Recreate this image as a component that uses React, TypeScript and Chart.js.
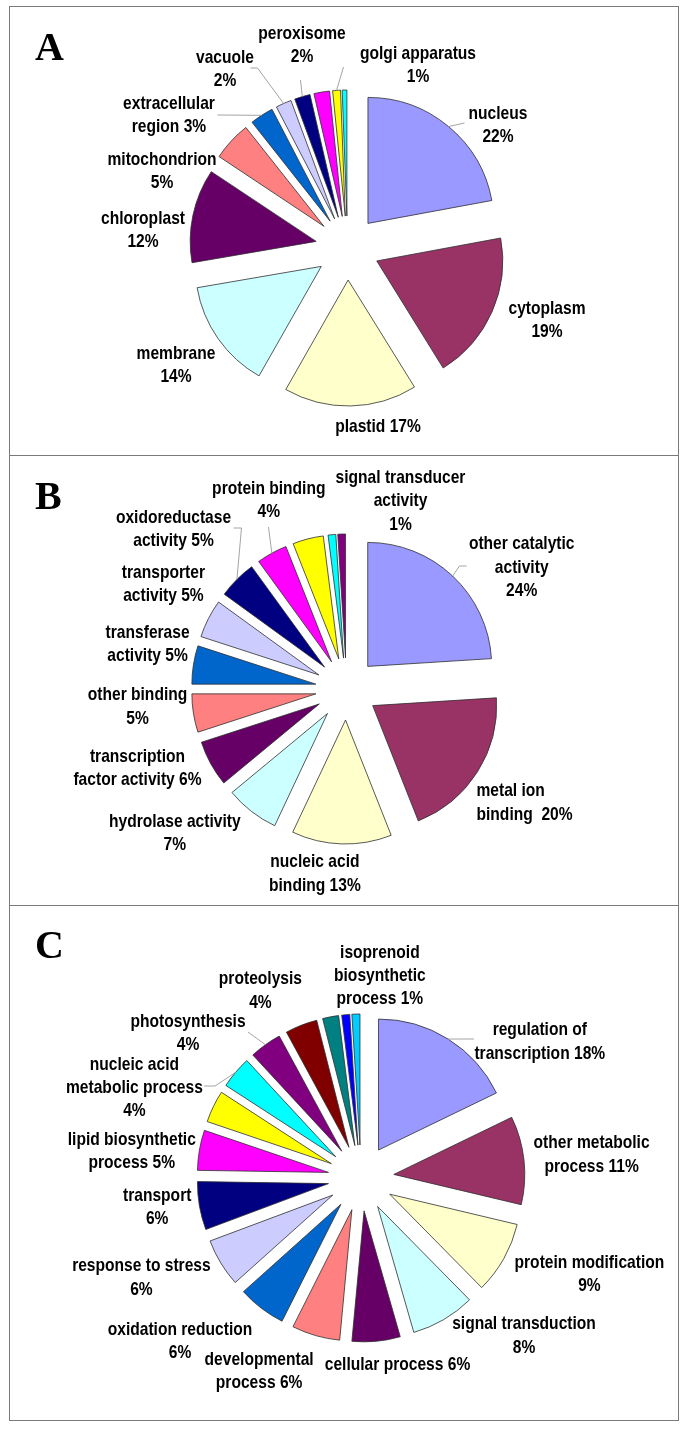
import React, { useEffect, useRef } from 'react';
import { Chart, registerables } from 'chart.js';

Chart.register(...registerables);

// ---------- DATA ----------
const excelPalette = ['#9999FF', '#993366', '#FFFFCC', '#CCFFFF', '#660066', '#FF8080', '#0066CC', '#CCCCFF', '#000080', '#FF00FF', '#FFFF00', '#00FFFF', '#800080', '#800000', '#008080', '#0000FF', '#00CCFF'];

// Panel A – cellular component
const cellCategories = ['nucleus', 'cytoplasm', 'plastid', 'membrane', 'chloroplast', 'mitochondrion', 'extracellular region', 'vacuole', 'peroxisome', 'other (unlabelled)', 'golgi apparatus', 'other (unlabelled) 2'];
const cellValues = [22, 19, 17, 14, 12, 5, 3, 2, 2, 2, 1, 0.6];

// Panel B – molecular function
const funcCategories = ['other catalytic activity', 'metal ion binding', 'nucleic acid binding', 'hydrolase activity', 'transcription factor activity', 'other binding', 'transferase activity', 'transporter activity', 'oxidoreductase activity', 'protein binding', 'other (unlabelled)', 'other (unlabelled) 2', 'signal transducer activity'];
const funcValues = [24, 20, 13, 7, 6, 5, 5, 5, 5, 4, 4, 1, 1];

// Panel C – biological process
const procCategories = ['regulation of transcription', 'other metabolic process', 'protein modification', 'signal transduction', 'cellular process', 'developmental process', 'oxidation reduction', 'response to stress', 'transport', 'lipid biosynthetic process', 'other (unlabelled)', 'nucleic acid metabolic process', 'photosynthesis', 'proteolysis', 'other (unlabelled) 2', 'other (unlabelled) 3', 'isoprenoid biosynthetic process'];
const procValues = [18, 11, 9, 8, 6, 6, 6, 6, 6, 5, 4, 4, 4, 4, 2, 1, 1];

// ---------- LABEL TEXT & LAYOUT (relative to pie centre) ----------
type Lbl = { slice: number; lines: string[]; dx: number; dy: number; align?: 'left' | 'center'; leader?: number[][] };

const cellLabels: Lbl[] = [
  { slice: 0, lines: ['nucleus', '22%'], dx: 150.5, dy: -123, leader: [[117, -125]] },
  { slice: 1, lines: ['cytoplasm', '19%'], dx: 199.5, dy: 72 },
  { slice: 2, lines: ['plastid 17%'], dx: 30.5, dy: 179 },
  { slice: 3, lines: ['membrane', '14%'], dx: -171.5, dy: 117.5 },
  { slice: 4, lines: ['chloroplast', '12%'], dx: -204.5, dy: -18 },
  { slice: 5, lines: ['mitochondrion', '5%'], dx: -185.5, dy: -76.5 },
  { slice: 6, lines: ['extracellular', 'region 3%'], dx: -178.5, dy: -132.5, leader: [[-130, -133]] },
  { slice: 7, lines: ['vacuole', '2%'], dx: -122.5, dy: -178.5, leader: [[-97, -180], [-90, -180]] },
  { slice: 8, lines: ['peroxisome', '2%'], dx: -45.5, dy: -202.5, leader: [[-47, -168]] },
  { slice: 10, lines: ['golgi apparatus', '1%'], dx: 70.5, dy: -182.5, leader: [[-4, -181]] },
];

const funcLabels: Lbl[] = [
  { slice: 0, lines: ['other catalytic', 'activity', '24%'], dx: 175.2, dy: -121.7, leader: [[120, -123], [113, -123]] },
  { slice: 1, lines: ['metal ion', 'binding  20%'], dx: 130, dy: 113.9, align: 'left' },
  { slice: 2, lines: ['nucleic acid', 'binding 13%'], dx: -31.6, dy: 184.9 },
  { slice: 3, lines: ['hydrolase activity', '7%'], dx: -171.7, dy: 144 },
  { slice: 4, lines: ['transcription', 'factor activity 6%'], dx: -209, dy: 79.4 },
  { slice: 5, lines: ['other binding', '5%'], dx: -209, dy: 17.7 },
  { slice: 6, lines: ['transferase', 'activity 5%'], dx: -198.9, dy: -44.6 },
  { slice: 7, lines: ['transporter', 'activity 5%'], dx: -183.1, dy: -104.6 },
  { slice: 8, lines: ['oxidoreductase', 'activity 5%'], dx: -173, dy: -159.5, leader: [[-113, -161], [-105, -161]] },
  { slice: 9, lines: ['protein binding', '4%'], dx: -77.7, dy: -189, leader: [[-78, -162]] },
  { slice: 12, lines: ['signal transducer', 'activity', '1%'], dx: 54, dy: -188 },
];

const procLabels: Lbl[] = [
  { slice: 0, lines: ['regulation of', 'transcription 18%'], dx: 178.8, dy: -136.3, leader: [[113, -139]] },
  { slice: 1, lines: ['other metabolic', 'process 11%'], dx: 230.6, dy: -23.2 },
  { slice: 2, lines: ['protein modification', '9%'], dx: 228.4, dy: 96.3 },
  { slice: 3, lines: ['signal transduction', '8%'], dx: 163, dy: 157.9 },
  { slice: 4, lines: ['cellular process 6%'], dx: 36.5, dy: 186.7 },
  { slice: 5, lines: ['developmental', 'process 6%'], dx: -101.9, dy: 193 },
  { slice: 6, lines: ['oxidation reduction', '6%'], dx: -181, dy: 163.5 },
  { slice: 7, lines: ['response to stress', '6%'], dx: -219.6, dy: 99.9 },
  { slice: 8, lines: ['transport', '6%'], dx: -203.8, dy: 29.6 },
  { slice: 9, lines: ['lipid biosynthetic', 'process 5%'], dx: -229.2, dy: -26.7 },
  { slice: 11, lines: ['nucleic acid', 'metabolic process', '4%'], dx: -226.6, dy: -90.2, leader: [[-157, -92], [-146, -92]] },
  { slice: 12, lines: ['photosynthesis', '4%'], dx: -173, dy: -144.4, leader: [[-113, -146]] },
  { slice: 13, lines: ['proteolysis', '4%'], dx: -100.6, dy: -187.1 },
  { slice: 16, lines: ['isoprenoid', 'biosynthetic', 'process 1%'], dx: 18.9, dy: -202.4 },
];

// ---------- helpers ----------
const PAGE_W = 685;
const LINE_H = 23.3;
const FONT_PX = 19;

let narrowInfo: { family: string; sx: number } | null = null;
function getNarrow(ctx: CanvasRenderingContext2D) {
  if (narrowInfo) return narrowInfo;
  const probe = 'abcdefghijklmnopqrstuvwxyz';
  ctx.save();
  ctx.font = 'bold 20px monospace';
  const a = ctx.measureText(probe).width;
  ctx.font = 'bold 20px "Liberation Sans Narrow", monospace';
  const b = ctx.measureText(probe).width;
  ctx.restore();
  narrowInfo = Math.abs(a - b) > 0.5 ? { family: '"Liberation Sans Narrow"', sx: 1 } : { family: '"Liberation Sans", Arial, sans-serif', sx: 0.82 };
  return narrowInfo;
}

type PanelProps = {
  top: number; height: number; letter: string; letterBase: number;
  cx: number; cy: number; radius: number; explode: number;
  categories: string[]; values: number[]; labels: Lbl[];
};

function PiePanel(p: PanelProps) {
  const ref = useRef<HTMLCanvasElement>(null);
  useEffect(() => {
    const canvas = ref.current!;
    const H = p.height;
    const lx = p.cx, ly = p.cy - p.top;
    const padding = {
      left: Math.max(0, 2 * lx - PAGE_W), right: Math.max(0, PAGE_W - 2 * lx),
      top: Math.max(0, 2 * ly - H), bottom: Math.max(0, H - 2 * ly),
    };
    const explodePlugin = {
      id: 'explodeSlices',
      beforeDatasetsDraw(chart: any) {
        const meta = chart.getDatasetMeta(0);
        meta.data.forEach((el: any) => {
          if (el.__exploded) return;
          const orig = el.draw;
          el.draw = function (ctx: CanvasRenderingContext2D, area: any) {
            const mid = (this.startAngle + this.endAngle) / 2;
            ctx.save();
            ctx.translate(Math.cos(mid) * p.explode, Math.sin(mid) * p.explode);
            orig.call(this, ctx, area);
            ctx.restore();
          };
          el.__exploded = true;
        });
      },
    };
    const labelPlugin = {
      id: 'sliceLabels',
      afterDraw(chart: any) {
        const ctx: CanvasRenderingContext2D = chart.ctx;
        const meta = chart.getDatasetMeta(0);
        const first: any = meta.data[0];
        const cx = first.x, cy = first.y;
        ctx.save();
        // leader lines
        ctx.strokeStyle = '#9a9a9a';
        ctx.lineWidth = 0.9;
        p.labels.forEach((l) => {
          if (!l.leader) return;
          const el: any = meta.data[l.slice];
          const mid = (el.startAngle + el.endAngle) / 2;
          const R = el.outerRadius + p.explode;
          ctx.beginPath();
          l.leader.forEach(([x, y], i) => (i === 0 ? ctx.moveTo(cx + x, cy + y) : ctx.lineTo(cx + x, cy + y)));
          ctx.lineTo(el.x + Math.cos(mid) * R, el.y + Math.sin(mid) * R);
          ctx.stroke();
        });
        // text
        const nf = getNarrow(ctx);
        ctx.fillStyle = '#000';
        ctx.font = `bold ${FONT_PX}px ${nf.family}`;
        ctx.textBaseline = 'middle';
        p.labels.forEach((l) => {
          const n = l.lines.length;
          l.lines.forEach((line, i) => {
            const y = cy + l.dy + (i - (n - 1) / 2) * LINE_H;
            const x = cx + l.dx;
            ctx.save();
            ctx.translate(x, y);
            ctx.scale(nf.sx, 1);
            ctx.textAlign = l.align === 'left' ? 'left' : 'center';
            ctx.fillText(line, 0, 0);
            ctx.restore();
          });
        });
        // panel letter
        ctx.font = 'bold 40px "Liberation Serif", "Times New Roman", serif';
        ctx.textAlign = 'left';
        ctx.textBaseline = 'alphabetic';
        ctx.fillText(p.letter, 35, p.letterBase - p.top);
        ctx.restore();
      },
    };
    const chart = new Chart(canvas, {
      type: 'pie',
      data: {
        labels: p.categories,
        datasets: [{
          data: p.values,
          backgroundColor: excelPalette.slice(0, p.values.length),
          borderColor: '#2e2e2e',
          borderWidth: 0.8,
        }],
      },
      options: {
        responsive: false,
        animation: false,
        events: [],
        radius: p.radius,
        layout: { padding },
        plugins: { legend: { display: false }, tooltip: { enabled: false }, title: { display: false } },
      } as any,
      plugins: [explodePlugin, labelPlugin],
    });
    return () => chart.destroy();
  }, []);
  return (
    <canvas ref={ref} width={PAGE_W} height={p.height}
      style={{ position: 'absolute', left: 0, top: p.top, width: PAGE_W, height: p.height }} />
  );
}

const frame = (top: number, height: number): React.CSSProperties => ({
  position: 'absolute', left: 9, top, width: 670, height, boxSizing: 'border-box',
  border: '1px solid #7a7a7a', background: '#fff',
});

export default function App() {
  return (
    <div style={{ position: 'absolute', left: 0, top: 0, width: PAGE_W, height: 1448, background: '#fff' }}>
      <div style={frame(6, 450)} />
      <div style={frame(455, 451)} />
      <div style={frame(905, 516)} />
      <PiePanel top={6} height={450} letter="A" letterBase={60} cx={347.5} cy={248} radius={126} explode={32}
        categories={cellCategories} values={cellValues} labels={cellLabels} />
      <PiePanel top={455} height={451} letter="B" letterBase={509} cx={346.5} cy={689} radius={124} explode={31}
        categories={funcCategories} values={funcValues} labels={funcLabels} />
      <PiePanel top={905} height={516} letter="C" letterBase={958} cx={361} cy={1178} radius={131} explode={33}
        categories={procCategories} values={procValues} labels={procLabels} />
    </div>
  );
}
